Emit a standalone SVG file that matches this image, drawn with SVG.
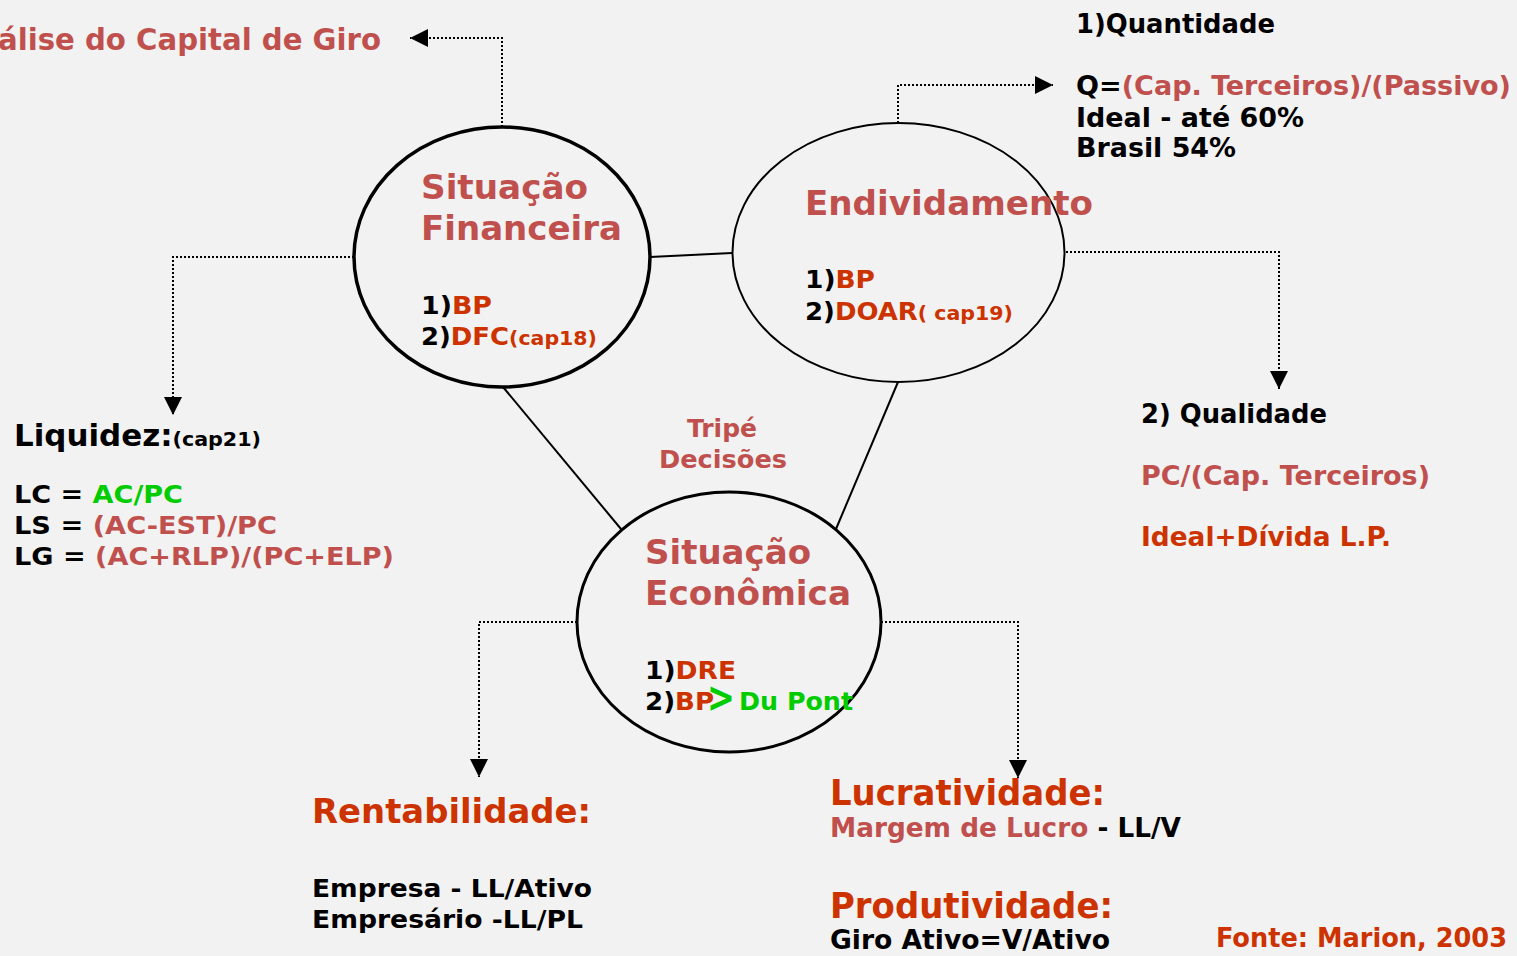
<svg xmlns="http://www.w3.org/2000/svg" width="1517" height="956" viewBox="0 0 1517 956">
<defs>
<marker id="ah" markerUnits="userSpaceOnUse" markerWidth="18" markerHeight="18" refX="18" refY="9" orient="auto">
<path d="M0,0 L18,9 L0,18 z" fill="#000"/>
</marker>
<style>
text{font-family:"DejaVu Sans","Verdana",sans-serif;font-weight:bold;}
.cn{font-stretch:condensed;}
.pk{fill:#C0504D;}
.or{fill:#CC3300;}
.gr{fill:#00CC00;}
.bk{fill:#000;}
.dot{fill:none;stroke:#000;stroke-width:2;stroke-dasharray:2 2;marker-end:url(#ah);}
.sol{fill:none;stroke:#000;stroke-width:2;}
.ell{fill:none;stroke:#000;}
</style>
</defs>
<rect x="0" y="0" width="1517" height="956" fill="#F2F2F2"/>

<g id="connectors">
<line class="sol" x1="650" y1="257" x2="732" y2="253"/>
<line class="sol" x1="503" y1="387" x2="621" y2="529"/>
<line class="sol" x1="898" y1="382" x2="836" y2="529"/>
<path class="dot" d="M502,127 V38 H410"/>
<path class="dot" d="M354,257 H173 V415"/>
<path class="dot" d="M898,123 V85 H1053"/>
<path class="dot" d="M1066,252 H1279 V389"/>
<path class="dot" d="M577,622 H479 V777"/>
<path class="dot" d="M881,622 H1018 V778"/>
</g>

<g id="situacao-financeira">
<ellipse class="ell" cx="502" cy="257" rx="148" ry="130" stroke-width="3.5"/>
<text class="pk" x="421" y="199" font-size="34" textLength="167" lengthAdjust="spacingAndGlyphs">Situação</text>
<text class="pk" x="421" y="240" font-size="34" textLength="201" lengthAdjust="spacingAndGlyphs">Financeira</text>
<text x="421" y="314" font-size="24" textLength="71" lengthAdjust="spacingAndGlyphs"><tspan class="bk">1)</tspan><tspan class="or">BP</tspan></text>
<text x="421" y="345" font-size="24" textLength="176" lengthAdjust="spacingAndGlyphs"><tspan class="bk">2)</tspan><tspan class="or">DFC</tspan><tspan class="or" font-size="19">(cap18)</tspan></text>
</g>

<g id="endividamento">
<ellipse class="ell" cx="898.5" cy="252.5" rx="166" ry="129.5" stroke-width="2"/>
<text class="pk" x="805" y="215" font-size="34" textLength="288" lengthAdjust="spacingAndGlyphs">Endividamento</text>
<text x="805" y="288" font-size="24" textLength="70" lengthAdjust="spacingAndGlyphs"><tspan class="bk">1)</tspan><tspan class="or">BP</tspan></text>
<text x="805" y="320" font-size="24" textLength="208" lengthAdjust="spacingAndGlyphs"><tspan class="bk">2)</tspan><tspan class="or">DOAR</tspan><tspan class="or" font-size="19">( cap19)</tspan></text>
</g>

<g id="situacao-economica">
<ellipse class="ell" cx="729" cy="622" rx="152" ry="130" stroke-width="3"/>
<text class="pk" x="645" y="564" font-size="34" textLength="166" lengthAdjust="spacingAndGlyphs">Situação</text>
<text class="pk" x="645" y="605" font-size="34" textLength="206" lengthAdjust="spacingAndGlyphs">Econômica</text>
<text x="645" y="679" font-size="24" textLength="91" lengthAdjust="spacingAndGlyphs"><tspan class="bk">1)</tspan><tspan class="or">DRE</tspan></text>
<text x="645" y="710" font-size="24" textLength="69" lengthAdjust="spacingAndGlyphs"><tspan class="bk">2)</tspan><tspan class="or">BP</tspan></text>
<text class="gr" x="707" y="712" font-size="42" textLength="28" lengthAdjust="spacingAndGlyphs">&gt;</text>
<text class="gr" x="739" y="710" font-size="24" textLength="114" lengthAdjust="spacingAndGlyphs">Du Pont</text>
</g>

<g id="tripe">
<text class="pk" x="722" y="437" font-size="25" text-anchor="middle">Tripé</text>
<text class="pk" x="723" y="468" font-size="25" text-anchor="middle" textLength="128" lengthAdjust="spacingAndGlyphs">Decisões</text>
</g>

<g id="capital-giro">
<text class="pk" x="-2" y="50" font-size="30" textLength="383" lengthAdjust="spacingAndGlyphs">álise do Capital de Giro</text>
</g>

<g id="liquidez">
<text x="14" y="446" font-size="30" textLength="247" lengthAdjust="spacingAndGlyphs"><tspan class="bk">Liquidez:</tspan><tspan class="bk" font-size="20">(cap21)</tspan></text>
<text x="14" y="503" font-size="25" textLength="169" lengthAdjust="spacingAndGlyphs"><tspan class="bk">LC = </tspan><tspan class="gr">AC/PC</tspan></text>
<text x="14" y="534" font-size="25" textLength="263" lengthAdjust="spacingAndGlyphs"><tspan class="bk">LS = </tspan><tspan class="pk">(AC-EST)/PC</tspan></text>
<text x="14" y="565" font-size="25" textLength="380" lengthAdjust="spacingAndGlyphs"><tspan class="bk">LG = </tspan><tspan class="pk">(AC+RLP)/(PC+ELP)</tspan></text>
</g>

<g id="quantidade">
<text class="bk cn" x="1076" y="33" font-size="27" textLength="199" lengthAdjust="spacingAndGlyphs">1)Quantidade</text>
<text class="cn" x="1076" y="95" font-size="27" textLength="435" lengthAdjust="spacingAndGlyphs"><tspan class="bk">Q=</tspan><tspan class="pk">(Cap. Terceiros)/(Passivo)</tspan></text>
<text class="bk cn" x="1076" y="127" font-size="27" textLength="228" lengthAdjust="spacingAndGlyphs">Ideal - até 60%</text>
<text class="bk cn" x="1076" y="157" font-size="27" textLength="160" lengthAdjust="spacingAndGlyphs">Brasil 54%</text>
</g>

<g id="qualidade">
<text class="bk" x="1141" y="423" font-size="26" textLength="186" lengthAdjust="spacingAndGlyphs">2) Qualidade</text>
<text class="pk" x="1141" y="485" font-size="26" textLength="289" lengthAdjust="spacingAndGlyphs">PC/(Cap. Terceiros)</text>
<text class="or" x="1141" y="546" font-size="26" textLength="250" lengthAdjust="spacingAndGlyphs">Ideal+Dívida L.P.</text>
</g>

<g id="rentabilidade">
<text class="or" x="312" y="823" font-size="34" textLength="279" lengthAdjust="spacingAndGlyphs">Rentabilidade:</text>
<text class="bk" x="312" y="897" font-size="25" textLength="280" lengthAdjust="spacingAndGlyphs">Empresa - LL/Ativo</text>
<text class="bk" x="312" y="928" font-size="25" textLength="271" lengthAdjust="spacingAndGlyphs">Empresário -LL/PL</text>
</g>

<g id="lucratividade">
<text class="or cn" x="830" y="805" font-size="35" textLength="275" lengthAdjust="spacingAndGlyphs">Lucratividade:</text>
<text class="cn" x="830" y="837" font-size="27" textLength="351" lengthAdjust="spacingAndGlyphs"><tspan class="pk">Margem de Lucro</tspan><tspan class="bk"> - LL/V</tspan></text>
</g>

<g id="produtividade">
<text class="or cn" x="830" y="918" font-size="35" textLength="283" lengthAdjust="spacingAndGlyphs">Produtividade:</text>
<text class="bk cn" x="830" y="949" font-size="27" textLength="280" lengthAdjust="spacingAndGlyphs">Giro Ativo=V/Ativo</text>
</g>

<g id="fonte">
<text class="or cn" x="1216" y="947" font-size="27" textLength="291" lengthAdjust="spacingAndGlyphs">Fonte: Marion, 2003</text>
</g>
</svg>
